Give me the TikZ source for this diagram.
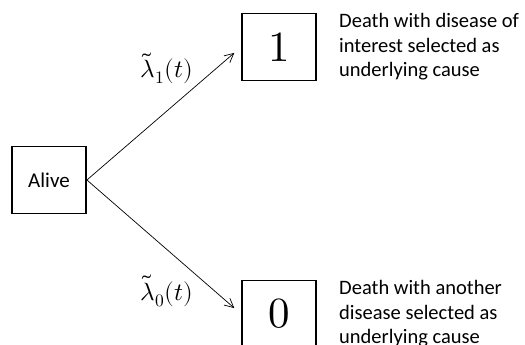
\documentclass[tikz,border=0pt]{standalone}
\usepackage{fontspec}
\usepackage{unicode-math}
\setmainfont{Carlito}
\setmathfont{Latin Modern Math}
\usetikzlibrary{arrows.meta,positioning}

\begin{document}
\begin{tikzpicture}[
  x=1pt, y=1pt,
  statebox/.style={draw, rectangle, line width=1.8pt, minimum width=74pt, minimum height=67pt,
                   inner sep=0pt},
  num/.style={font=\fontsize{43}{43}\selectfont},
  rate/.style={font=\fontsize{25}{28}\selectfont, inner sep=0pt},
  note/.style={font=\fontsize{20.5}{24.5}\selectfont, align=left, anchor=west, inner sep=0pt},
  trans/.style={-{Straight Barb[length=9pt,width=9pt]}, line width=0.7pt, shorten >=9pt}
]
  \clip (0,0) rectangle (525,345);
  \useasboundingbox (0,0) rectangle (525,345);

  \node[statebox, font=\fontsize{21}{24}\selectfont] (alive) at (49,165) {Alive};
  \node[statebox, num] (one)  at (279,298) {$1$};
  \node[statebox, num] (zero) at (279,31)  {$0$};

  \node[note] (onetext)  at (339,298) {Death with disease of\\interest selected as\\underlying cause};
  \node[note] (zerotext) at (339,31)  {Death with another\\disease selected as\\underlying cause};

  % transitions
  \draw[trans] (alive.east) -- (one.west);
  \draw[trans] (alive.east) -- (zero.west);
  \node[rate] (lamone)  at (167,277) {$\tilde{\lambda}_1(t)$};
  \node[rate] (lamzero) at (167,54)  {$\tilde{\lambda}_0(t)$};

\end{tikzpicture}
\end{document}
